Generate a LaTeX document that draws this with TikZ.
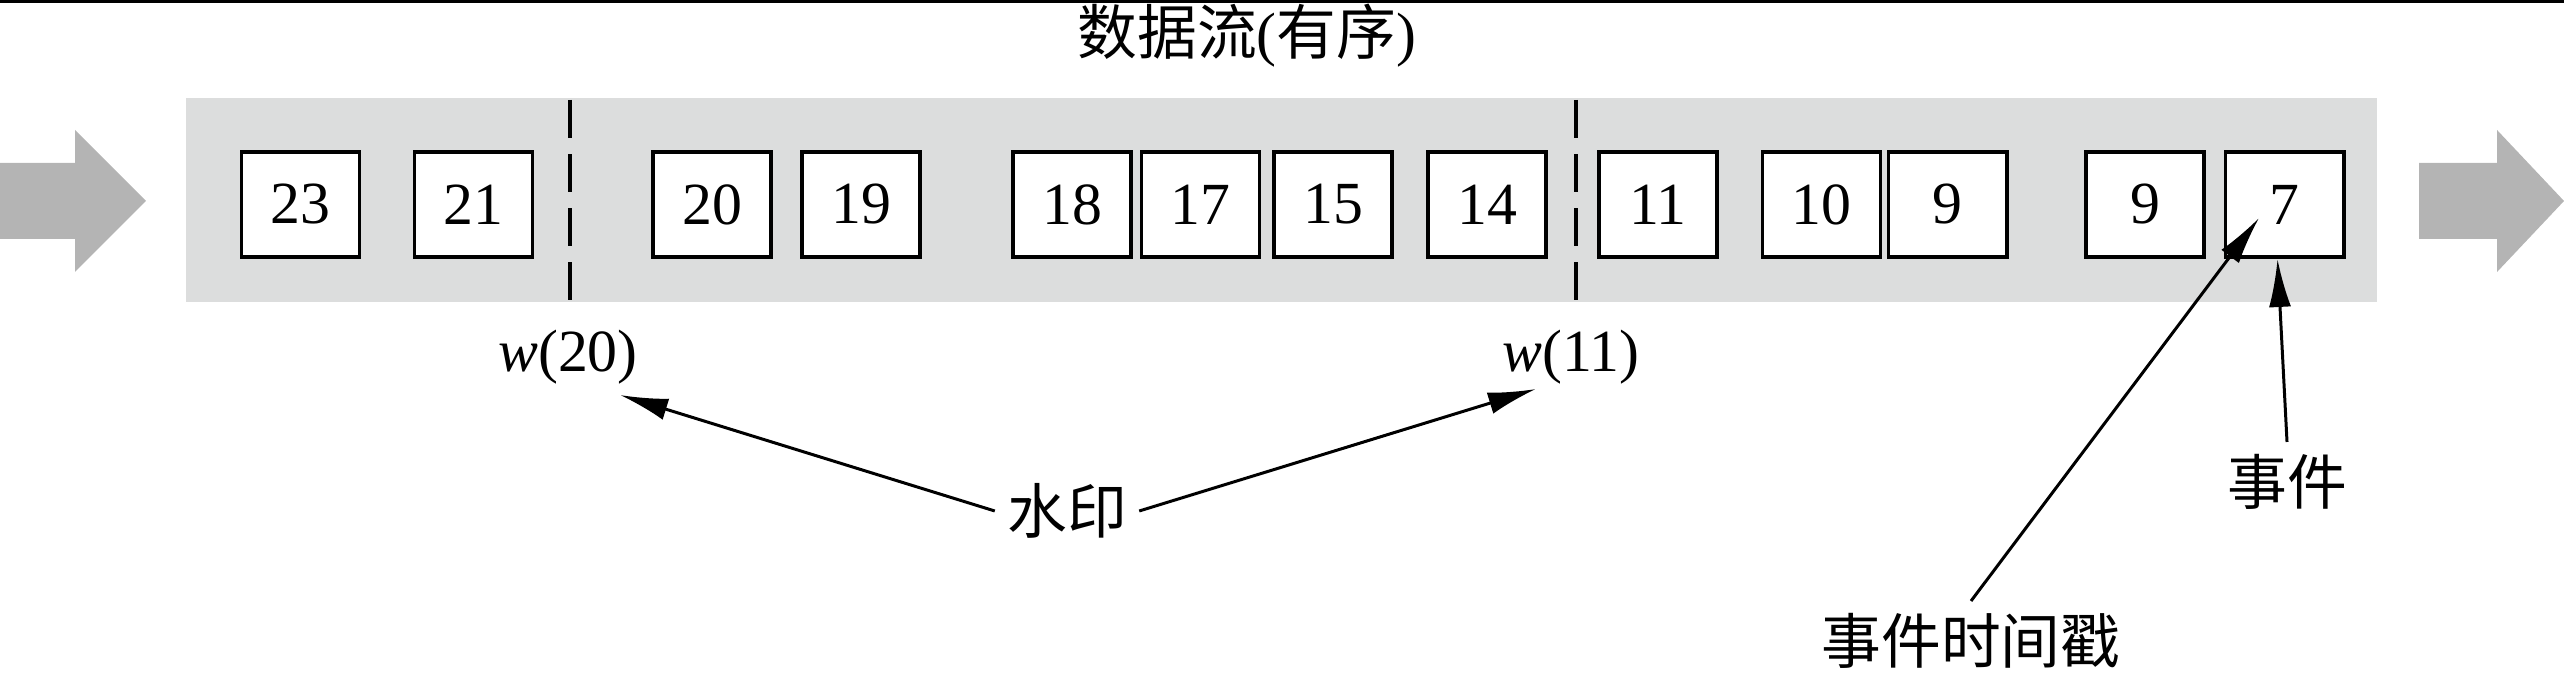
\documentclass[tikz,border=0pt]{standalone}
\usepackage{fontspec}
\setmainfont{Liberation Serif}
\newfontfamily\cjk{Noto Sans CJK SC}
\usetikzlibrary{arrows.meta}
\definecolor{bandgray}{RGB}{220,221,221}
\definecolor{arrowgray}{RGB}{180,180,180}
\begin{document}
\begin{tikzpicture}[x=0.01cm,y=-0.01cm,
  evbox/.style={draw, line width=1.1pt, fill=white, minimum width=1.18cm, minimum height=1.05cm, inner sep=0pt, font=\fontsize{17}{20}\selectfont},
  txt/.style={font=\fontsize{17}{20}\selectfont},
  lbl/.style={font=\cjk\fontsize{17}{20}\selectfont},
  arr/.style={-{Latex[length=0.48cm,width=0.22cm]}, line width=0.85pt},
  wmline/.style={dash pattern=on 0.38cm off 0.16cm, line width=1pt},
  bigarrow/.style={fill=arrowgray}]
\useasboundingbox (0,0) rectangle (2564,674);
\fill (0,0) rectangle (2564,3);
% band and big arrows
\fill[bandgray] (186,98) rectangle (2377,302);
\fill[bigarrow] (0,163) -- (75,163) -- (75,130) -- (146,201) -- (75,272) -- (75,239) -- (0,239) -- cycle;
\fill[bigarrow] (2419,163) -- (2497,163) -- (2497,130) -- (2564,201) -- (2497,272) -- (2497,239) -- (2419,239) -- cycle;
% title
\node[txt] (title) at (1247,36) {{\cjk 数据流}({\cjk 有序})};
% events
\node[evbox] (b23) at (300.5,204.5) {23};
\node[evbox] (b21) at (473.5,204.5) {21};
\node[evbox] (b20) at (712,204.5) {20};
\node[evbox] (b19) at (861,204.5) {19};
\node[evbox] (b18) at (1072,204.5) {18};
\node[evbox] (b17) at (1200.5,204.5) {17};
\node[evbox] (b15) at (1333,204.5) {15};
\node[evbox] (b14) at (1487,204.5) {14};
\node[evbox] (b11) at (1658,204.5) {11};
\node[evbox] (b10) at (1821.5,204.5) {10};
\node[evbox] (b9a) at (1947.5,204.5) {9};
\node[evbox] (b9b) at (2145,204.5) {9};
\node[evbox] (b7) at (2284.5,204.5) {7};
% watermarks
\draw[wmline] (570,100) -- (570,300);
\draw[wmline] (1576,100) -- (1576,300);
\node[txt] (w20) at (568,357) {\textit{w}(20)};
\node[txt] (w11) at (1571,357) {\textit{w}(11)};
\node[lbl] (shui) at (1067,511) {水印};
\coordinate (w20tip) at (620,395);
\coordinate (w11tip) at (1536,389);
\draw[arr] (shui.west) -- (w20tip);
\draw[arr] (shui.east) -- (w11tip);
% event labels
\node[lbl] (ev) at (2287,482) {事件};
\node[lbl] (ts) at (1971,641) {事件时间戳};
\coordinate (tstip) at (2259,218);
\draw[arr] (ev.north) -- ([xshift=-0.07cm]b7.south);
\draw[arr] (ts.north) -- (tstip);
\end{tikzpicture}
\end{document}
